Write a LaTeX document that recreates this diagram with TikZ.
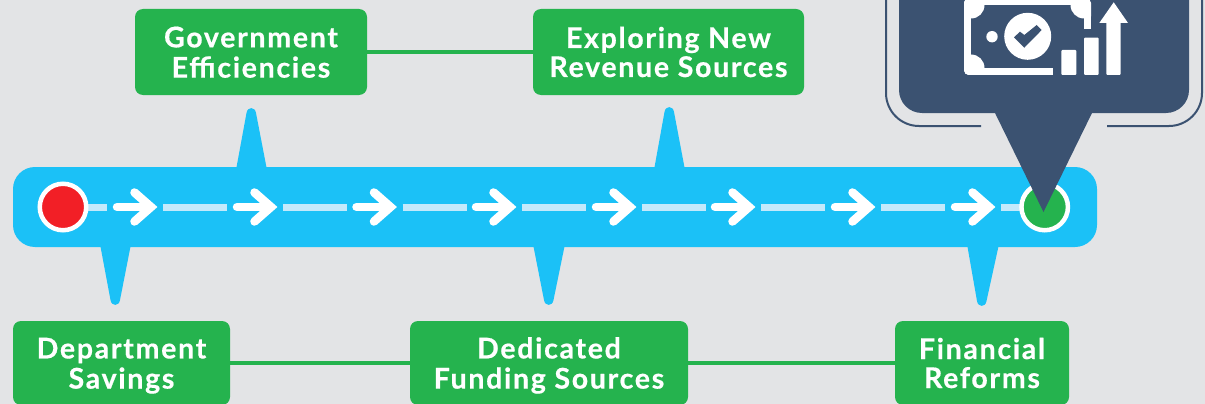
\documentclass[tikz,border=0pt]{standalone}
\usepackage{fontspec}
\setmainfont[LetterSpace=6,BoldFeatures={FakeBold=0.6}]{Lato}
\definecolor{bg}{HTML}{E3E4E6}
\definecolor{barblue}{HTML}{1BC1F7}
\definecolor{boxgreen}{HTML}{25B34E}
\definecolor{navy}{HTML}{3B5271}
\definecolor{dashblue}{HTML}{C4E9FB}
\definecolor{dotred}{HTML}{F21F26}
\newcommand\firststrut{\rule[-8pt]{0pt}{37pt}}
\newcommand\laststrut{\rule[-8pt]{0pt}{29pt}}
\tikzset{
  x=1pt,y=-1pt,
  labelbox/.style={fill=boxgreen,rounded corners=8pt,inner sep=0pt,text=white,align=center,
    font=\fontsize{28.5}{29}\selectfont\bfseries},
  link/.style={draw=boxgreen,line width=4pt},
  dotnode/.style={circle,draw=white,line width=4.5pt,minimum size=46.5pt,inner sep=0pt},
  flowarrow/.style={draw=white,line width=8.5pt,line cap=round,line join=miter},
  dashline/.style={draw=dashblue,line width=7pt},
  pointer/.style={fill=barblue},
}
\begin{document}
\begin{tikzpicture}
\useasboundingbox (0,0) rectangle (1205,404);
\fill[bg] (0,0) rectangle (1205,404);
% pointers
\fill[pointer] (236,170) -- (246.5,113) .. controls (247.5,106.5) and (255,106.5) .. (256,113) -- (267,170) -- cycle;
\fill[pointer] (654,170) -- (664.5,112) .. controls (665.5,105.5) and (673,105.5) .. (674,112) -- (685,170) -- cycle;
\fill[pointer] (100,244) -- (110.5,300) .. controls (111.5,306.5) and (119,306.5) .. (120,300) -- (131,244) -- cycle;
\fill[pointer] (533,244) -- (544,300) .. controls (545,306.5) and (552.5,306.5) .. (553.5,300) -- (565,244) -- cycle;
\fill[pointer] (967,244) -- (977,301) .. controls (978,307.5) and (985.5,307.5) .. (986.5,301) -- (999,244) -- cycle;
% bar
\fill[barblue,rounded corners=22pt] (13,167) rectangle (1097,247);
% dashes and arrows
\foreach \t [count=\i] in {157,277,396.5,516,636,755,875,995}{
  \coordinate (tip\i) at (\t-6,207);
  \coordinate (tail\i) at (\t-40,207);
  \coordinate (hu\i) at (\t-22.5,192.5);
  \coordinate (hd\i) at (\t-22.5,221.5);
  \coordinate (ds\i) at (\t+6,207);
  \coordinate (de\i) at (\t+70,207);
}
\coordinate (d0) at (88,207);
\coordinate (d0e) at (107,207);
\coordinate (d9e) at (1021,207);
\draw[dashline] (d0) -- (d0e);
\draw[dashline] (ds8) -- (d9e);
\foreach \i in {1,...,7}{
  \draw[dashline] (ds\i) -- (de\i);
}
\foreach \i in {1,...,8}{
  \draw[flowarrow] (tail\i) -- (tip\i);
  \draw[flowarrow] (hu\i) -- (tip\i) -- (hd\i);
}
% dots
\node[dotnode,fill=dotred] (start) at (63,207) {};
\node[dotnode,fill=boxgreen] (finish) at (1044.7,207) {};
% callout outline
\coordinate (gapl) at (981,126);
\coordinate (gapr) at (1107,126);
\draw[navy,line width=2pt] (gapl) -- (919,126) arc[start angle=90,end angle=180,radius=33] -- (886,-5);
\draw[navy,line width=2pt] (gapr) -- (1169,126) arc[start angle=90,end angle=0,radius=33] -- (1202,-5);
% callout
\fill[navy] (899,-30) -- (899,90) arc[start angle=180,end angle=90,radius=23] -- (995,113) -- (1043.5,212) -- (1092,113) -- (1166,113) arc[start angle=90,end angle=0,radius=23] -- (1189,-30) -- cycle;
% icon
\begin{scope}
\clip[rounded corners=5pt] (964,-2) rectangle (1091,75);
\fill[white] (964,-2) rectangle (971,75);
\fill[white] (964,68) rectangle (1053,75);
\fill[white] (964,-2) rectangle (1091,5);
\fill[white] (1084,-2) rectangle (1091,29.5);
\fill[white] (971,5) circle[radius=13.5];
\fill[white] (971,68) circle[radius=13.5];
\fill[white] (1084,5) circle[radius=13.5];
\end{scope}
\fill[white] (992,36.7) circle[radius=5.7];
\fill[white] (1027.7,36.3) circle[radius=23.5];
\fill[navy] (1014,37.3) -- (1020,31.7) -- (1024.3,35) -- (1036.7,25) -- (1041.7,30) -- (1024.3,47.7) -- cycle;
\fill[white,rounded corners=1pt] (1061.3,50) rectangle (1076.3,75);
\fill[white,rounded corners=1pt] (1084,37.7) rectangle (1098.7,75);
\fill[white,rounded corners=1pt] (1106.3,20) rectangle (1120.7,75);
\fill[white] (1099.3,23) -- (1113.7,2.3) -- (1128,23) -- cycle;
% boxes
\node[labelbox,minimum width=232pt,minimum height=86pt] (gov) at (251,52) {\firststrut Government\\\laststrut Efficiencies};
\node[labelbox,minimum width=271pt,minimum height=86pt] (explore) at (668.5,52) {\firststrut Exploring New\\\laststrut Revenue Sources};
\node[labelbox,minimum width=217pt,minimum height=84pt] (dept) at (121.5,363) {\firststrut Department\\\laststrut Savings};
\node[labelbox,minimum width=278pt,minimum height=84pt] (dedicated) at (549,363) {\firststrut Dedicated\\\laststrut Funding Sources};
\node[labelbox,minimum width=174pt,minimum height=84pt] (fin) at (982,363) {\firststrut Financial\\\laststrut Reforms};
% links
\draw[link] (gov) -- (explore);
\draw[link] (dept) -- (dedicated);
\draw[link] (dedicated) -- (fin);
\end{tikzpicture}
\end{document}
